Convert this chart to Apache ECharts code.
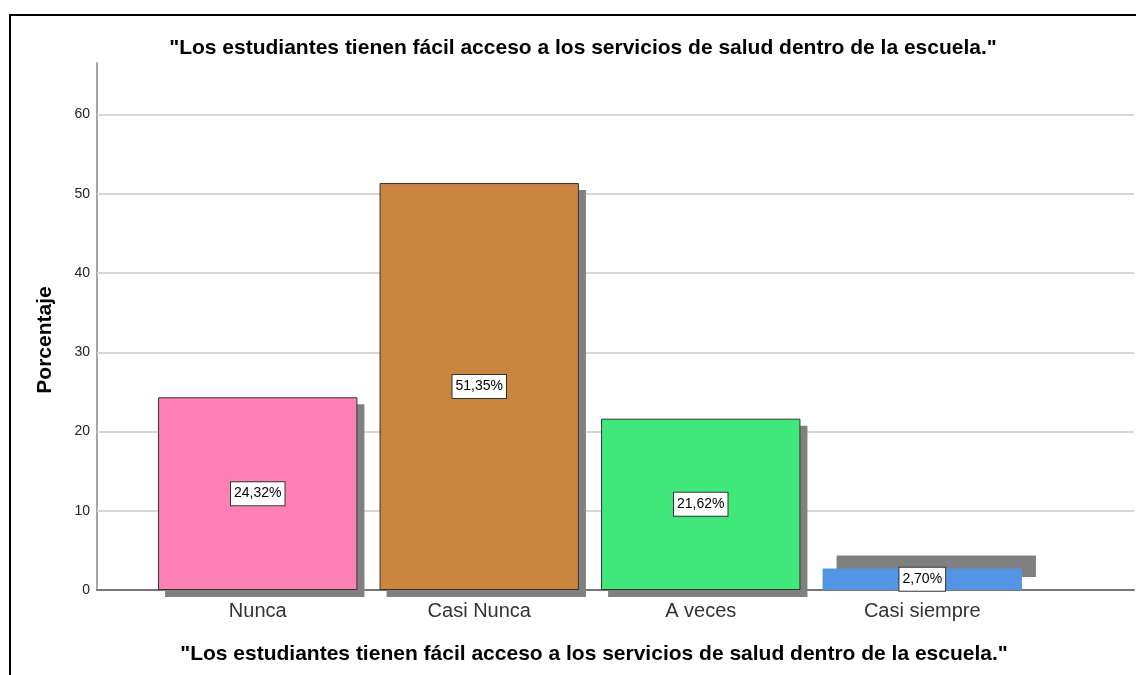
<!DOCTYPE html>
<html>
<head>
<meta charset="utf-8">
<script src="https://cdn.jsdelivr.net/npm/echarts@6/dist/echarts.min.js"></script>
<style>html,body{margin:0;padding:0;background:#fff;}#c{width:1136px;height:675px;}</style>
</head>
<body>
<div id="c"></div>
<script>
const chartTitle = '"Los estudiantes tienen fácil acceso a los servicios de salud dentro de la escuela."';
const categories = ['Nunca', 'Casi Nunca', 'A veces', 'Casi siempre'];
const percentages = [24.32, 51.35, 21.62, 2.70];
const barColors = ['#fe80b4', '#cc853f', '#40e87c', '#5295e3'];
const yTicks = [0, 10, 20, 30, 40, 50, 60];
const yMax = 66.5;
const yName = 'Porcentaje';

const FONT = "Arial, 'Liberation Sans', sans-serif";
const chart = echarts.init(document.getElementById('c'), null, {renderer: 'canvas'});

const fmtPct = v => v.toFixed(2).replace('.', ',') + '%';

const option = {
  animation: false,
  backgroundColor: '#ffffff',
  title: [
    {text: chartTitle, left: 578, top: 33, textAlign: 'center',
     textStyle: {fontFamily: FONT, fontSize: 21, fontWeight: 'bold', color: '#000'}},
    {text: chartTitle, left: 589, top: 639, textAlign: 'center',
     textStyle: {fontFamily: FONT, fontSize: 21, fontWeight: 'bold', color: '#000'}}
  ],
  graphic: [
    {type: 'rect', shape: {x: 10, y: 15, width: 1200, height: 700},
     style: {fill: 'none', stroke: '#000', lineWidth: 2}, z: 100, silent: true},
    {type: 'text', x: 45, y: 340, rotation: Math.PI / 2,
     style: {text: yName, font: 'bold 21px ' + FONT, fill: '#000', textAlign: 'center', textVerticalAlign: 'middle'}}
  ],
  grid: [
    {left: 147, right: 103, top: 63, bottom: 85},
    {left: 97, right: 2, top: 63, bottom: 85}
  ],
  xAxis: [
    {type: 'category', gridIndex: 0, data: categories,
     axisLine: {show: false}, axisTick: {show: false},
     axisLabel: {fontFamily: FONT, fontSize: 20, color: '#333', margin: 11}},
    {type: 'category', gridIndex: 1, data: [''],
     axisLine: {show: true, lineStyle: {color: '#777', width: 2}},
     axisTick: {show: false}, axisLabel: {show: false}}
  ],
  yAxis: [
    {type: 'value', gridIndex: 0, min: 0, max: yMax, show: false, splitLine: {show: false}},
    {type: 'value', gridIndex: 1, min: 0, max: yMax, interval: 10,
     axisLine: {show: true, lineStyle: {color: '#a6a6a6', width: 2}},
     axisTick: {show: false}, splitLine: {show: false},
     axisLabel: {showMaxLabel: false, margin: 7, fontFamily: FONT, fontSize: 14, color: '#222',
       formatter: v => yTicks.includes(v) ? String(v) : ''}}
  ],
  series: [
    {type: 'line', xAxisIndex: 1, yAxisIndex: 1, data: [null], z: 1, silent: true,
     markLine: {silent: true, z: 1, symbol: ['none', 'none'], label: {show: false},
       lineStyle: {color: '#d6d6d6', width: 2, type: 'solid'},
       data: yTicks.filter(v => v > 0).map(v => ({yAxis: v}))}},
    {type: 'custom', xAxisIndex: 0, yAxisIndex: 0, z: 2, silent: true,
     data: percentages.map((v, i) => [i, v]),
     renderItem: function (params, api) {
       const i = api.value(0), v = api.value(1);
       const top = api.coord([i, v]);
       const base = api.coord([i, 0]);
       const w = api.size([1, 0])[0] * 0.9;
       const h = base[1] - top[1];
       let dx = 7, dy = 7;
       if (h < 30) { dx = 14; dy = -13; }
       return {type: 'rect', shape: {x: top[0] - w / 2 + dx, y: top[1] + dy, width: w, height: h},
               style: {fill: '#808080'}};
     }},
    {type: 'bar', xAxisIndex: 0, yAxisIndex: 0, z: 3, barWidth: '90%',
     data: percentages.map((v, i) => ({value: v,
       itemStyle: {color: barColors[i], borderColor: '#333', borderWidth: i < 3 ? 1 : 0}})),
     label: {show: true, position: 'inside', formatter: p => fmtPct(p.value),
       fontFamily: FONT, fontSize: 14, color: '#000', backgroundColor: '#fff',
       borderColor: '#333', borderWidth: 1, padding: [5, 3, 4, 3]}}
  ]
};
chart.setOption(option);
</script>
</body>
</html>
